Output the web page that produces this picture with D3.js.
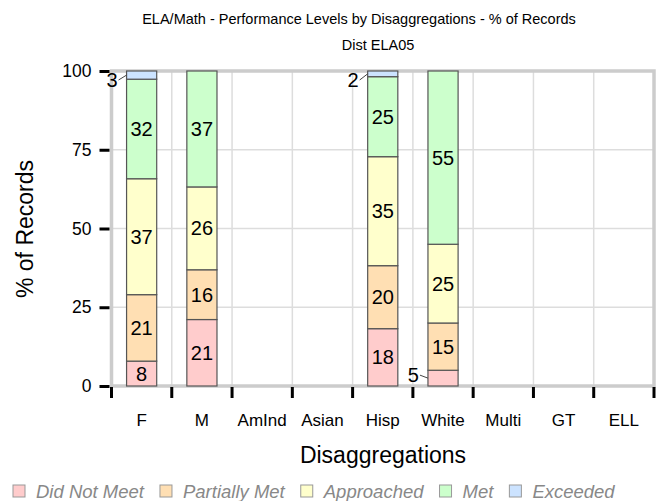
<!DOCTYPE html>
<meta charset="utf-8">
<script src="https://d3js.org/d3.v7.min.js"></script>
<style>
  body { margin: 0; background: #fff; }
  text { font-family: "Liberation Sans", Arial, sans-serif; }
</style>
<div id="chart"></div>
<script>
// Chart data
const categories = ["F", "M", "AmInd", "Asian", "Hisp", "White", "Multi", "GT", "ELL"];
const levels = ["Did Not Meet", "Partially Met", "Approached", "Met", "Exceeded"];
const didNotMeet   = [7.9, 21.1, null, null, 18.2, 5,  null, null, null];
const partiallyMet = [21.1, 15.8, null, null, 20.0, 15, null, null, null];
const approached   = [36.8, 26.3, null, null, 34.6, 25, null, null, null];
const met          = [31.6, 36.8, null, null, 25.4, 55, null, null, null];
const exceeded     = [2.6, 0,    null, null, 1.8,  0,  null, null, null];
const yTicks = [0, 25, 50, 75, 100];
const colors = ["#ffcccc", "#ffdfb3", "#ffffcc", "#ccffcc", "#cce3ff"];

const W = 665, H = 501;
const margin = {top: 71, right: 11, bottom: 115, left: 111.5};
const width = W - margin.left - margin.right,
      height = H - margin.top - margin.bottom;

const svg = d3.select("#chart").append("svg")
  .attr("width", W).attr("height", H);

// Titles
svg.append("text").attr("x", 359).attr("y", 24)
  .attr("text-anchor", "middle").style("font-size", "14.5px")
  .text("ELA/Math - Performance Levels by Disaggregations - % of Records");
svg.append("text").attr("x", 378).attr("y", 50)
  .attr("text-anchor", "middle").style("font-size", "14.5px")
  .text("Dist ELA05");

const g = svg.append("g").attr("transform", `translate(${margin.left},${margin.top})`);

const x = d3.scaleBand().domain(categories).range([0, width]);
const y = d3.scaleLinear().domain([0, 100]).range([height, 0]);

// Grid
g.append("g").selectAll("line").data(categories.slice(1))
  .join("line")
  .attr("x1", d => x(d)).attr("x2", d => x(d))
  .attr("y1", 0).attr("y2", height)
  .attr("stroke", "#ddd").attr("stroke-width", 1.5);
g.append("g").selectAll("line").data(yTicks.slice(1, -1))
  .join("line")
  .attr("x1", 0).attr("x2", width)
  .attr("y1", d => y(d)).attr("y2", d => y(d))
  .attr("stroke", "#ddd").attr("stroke-width", 1.5);

// Frame
g.append("rect").attr("x", 0).attr("y", 0).attr("width", width).attr("height", height)
  .attr("fill", "none").attr("stroke", "#ccc").attr("stroke-width", 3.5);

// Y axis
const yAxis = g.append("g")
  .call(d3.axisLeft(y).tickValues(yTicks).tickSize(10).tickPadding(8))
  .attr("transform", "translate(-2,0)");
yAxis.select(".domain").remove();
yAxis.selectAll(".tick line").attr("stroke", "#000").attr("stroke-width", 3);
yAxis.selectAll(".tick text").style("font-size", "17.5px")
  .style("font-family", "Liberation Sans, Arial, sans-serif").attr("fill", "#000");

// X axis ticks at band boundaries
const bounds = categories.map(d => x(d)).concat([width]);
g.append("g").selectAll("line").data(bounds)
  .join("line")
  .attr("x1", d => d).attr("x2", d => d)
  .attr("y1", height + 1).attr("y2", height + 12)
  .attr("stroke", "#000").attr("stroke-width", 3);
g.append("g").selectAll("text").data(categories)
  .join("text")
  .attr("x", d => x(d) + x.bandwidth() / 2)
  .attr("y", height + 40)
  .attr("text-anchor", "middle")
  .style("font-size", "17px")
  .text(d => d);

// Axis titles
svg.append("text").attr("transform", "translate(33,229) rotate(-90)")
  .attr("text-anchor", "middle").style("font-size", "23px").text("% of Records");
svg.append("text").attr("x", 383).attr("y", 463)
  .attr("text-anchor", "middle").style("font-size", "23px").text("Disaggregations");

// Stacked bars
const series = [didNotMeet, partiallyMet, approached, met, exceeded];
const segs = [];
categories.forEach((c, i) => {
  let acc = 0;
  series.forEach((s, k) => {
    const v = s[i];
    if (v == null || v === 0) return;
    segs.push({cat: c, level: k, v: v, y0: acc, y1: acc + v});
    acc += v;
  });
});

const bw = x.bandwidth() / 2;
const bx = d => x(d.cat) + x.bandwidth() / 2 - bw / 2;

g.append("g").selectAll("rect").data(segs)
  .join("rect")
  .attr("x", bx)
  .attr("y", d => y(Math.min(d.y1, 100)))
  .attr("width", bw)
  .attr("height", d => y(d.y0) - y(Math.min(d.y1, 100)))
  .attr("fill", d => colors[d.level])
  .attr("stroke", "#555").attr("stroke-width", 1.2);

// Labels
const big = segs.filter(d => d.v >= 6), small = segs.filter(d => d.v < 6);
g.append("g").selectAll("text").data(big)
  .join("text")
  .attr("x", d => bx(d) + bw / 2)
  .attr("y", d => y((d.y0 + d.y1) / 2) + 7)
  .attr("text-anchor", "middle")
  .style("font-size", "20px")
  .text(d => Math.round(d.v));

const smallG = g.append("g");
small.forEach(d => {
  const mid = y((d.y0 + d.y1) / 2);
  const ly = Math.max(mid - 3, y(100) + 9);
  smallG.append("line")
    .attr("x1", bx(d) - 8).attr("y1", ly)
    .attr("x2", bx(d)).attr("y2", mid)
    .attr("stroke", "#444").attr("stroke-width", 1);
  smallG.append("text")
    .attr("x", bx(d) - 9).attr("y", ly + 7)
    .attr("text-anchor", "end")
    .style("font-size", "20px")
    .text(Math.round(d.v));
});

// Legend
const leg = svg.append("g").attr("transform", "translate(13,491)");
let lx = 0;
levels.forEach((l, k) => {
  leg.append("rect").attr("x", lx).attr("y", -6).attr("width", 12).attr("height", 12)
    .attr("fill", colors[k]).attr("stroke", "#999").attr("stroke-width", 1);
  const t = leg.append("text").attr("x", lx + 23).attr("y", 6.5)
    .style("font-size", "18.5px").style("font-style", "italic")
    .attr("fill", "#888").text(l);
  lx += 23 + t.node().getComputedTextLength() + 16;
});
</script>
